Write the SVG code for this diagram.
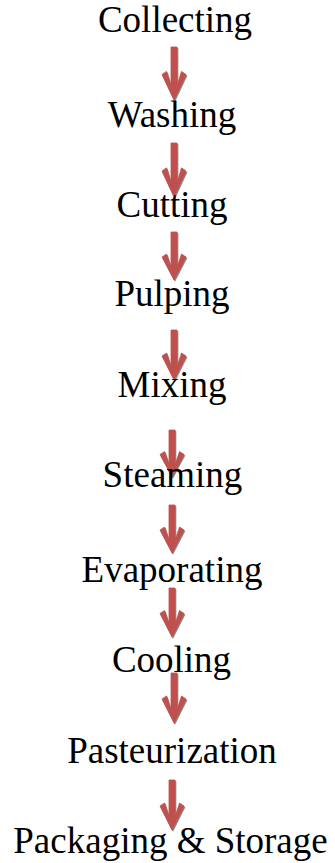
<svg xmlns="http://www.w3.org/2000/svg" xmlns:xlink="http://www.w3.org/1999/xlink" width="335" height="863" viewBox="0 0 335 863">
  <style>
    .lbl { font-family: "Liberation Serif", "Times New Roman", serif; font-size: 37px; fill: #000; text-anchor: middle; }
    .arr { fill: #C0504D; stroke: #C0504D; stroke-width: 0.8; stroke-linejoin: round; }
    .shd { fill: #6f6f6f; stroke: #6f6f6f; stroke-width: 0.8; stroke-linejoin: round; opacity: 0.85; }
  </style>
  <defs>
    <polygon id="ah" points="-3,0 3,0 3,37 7.5,23 12,26 0,50 -12,26 -7.5,23 -3,37"/>
    <g id="arrow">
      <use xlink:href="#ah" class="shd" transform="translate(0.9,1.2)"/>
      <use xlink:href="#ah" class="arr"/>
    </g>
  </defs>
  <rect width="335" height="863" fill="#fff"/>
  <g id="connectors">
    <use xlink:href="#arrow" transform="translate(174,47) scale(1,1.06)"/>
    <use xlink:href="#arrow" transform="translate(174,143) scale(1,1.08)"/>
    <use xlink:href="#arrow" transform="translate(174,232) scale(1,0.96)"/>
    <use xlink:href="#arrow" transform="translate(174,330) scale(1,1)"/>
    <use xlink:href="#arrow" transform="translate(172,430) scale(1,0.94)"/>
    <use xlink:href="#arrow" transform="translate(172,505) scale(1,0.96)"/>
    <use xlink:href="#arrow" transform="translate(172,588) scale(1,0.98)"/>
    <use xlink:href="#arrow" transform="translate(174,673) scale(1,1)"/>
    <use xlink:href="#arrow" transform="translate(172,780) scale(1,1)"/>
  </g>
  <g id="collecting"><text class="lbl" x="175" y="32">Collecting</text></g>
  <g id="washing"><text class="lbl" x="172" y="127">Washing</text></g>
  <g id="cutting"><text class="lbl" x="172" y="217">Cutting</text></g>
  <g id="pulping"><text class="lbl" x="172" y="306">Pulping</text></g>
  <g id="mixing"><text class="lbl" x="172" y="397">Mixing</text></g>
  <g id="steaming"><text class="lbl" x="172.5" y="487">Steaming</text></g>
  <g id="evaporating"><text class="lbl" x="172" y="582">Evaporating</text></g>
  <g id="cooling"><text class="lbl" x="171.5" y="672">Cooling</text></g>
  <g id="pasteurization"><text class="lbl" x="172" y="763">Pasteurization</text></g>
  <g id="packaging"><text class="lbl" x="170.5" y="853">Packaging &amp; Storage</text></g>
</svg>
